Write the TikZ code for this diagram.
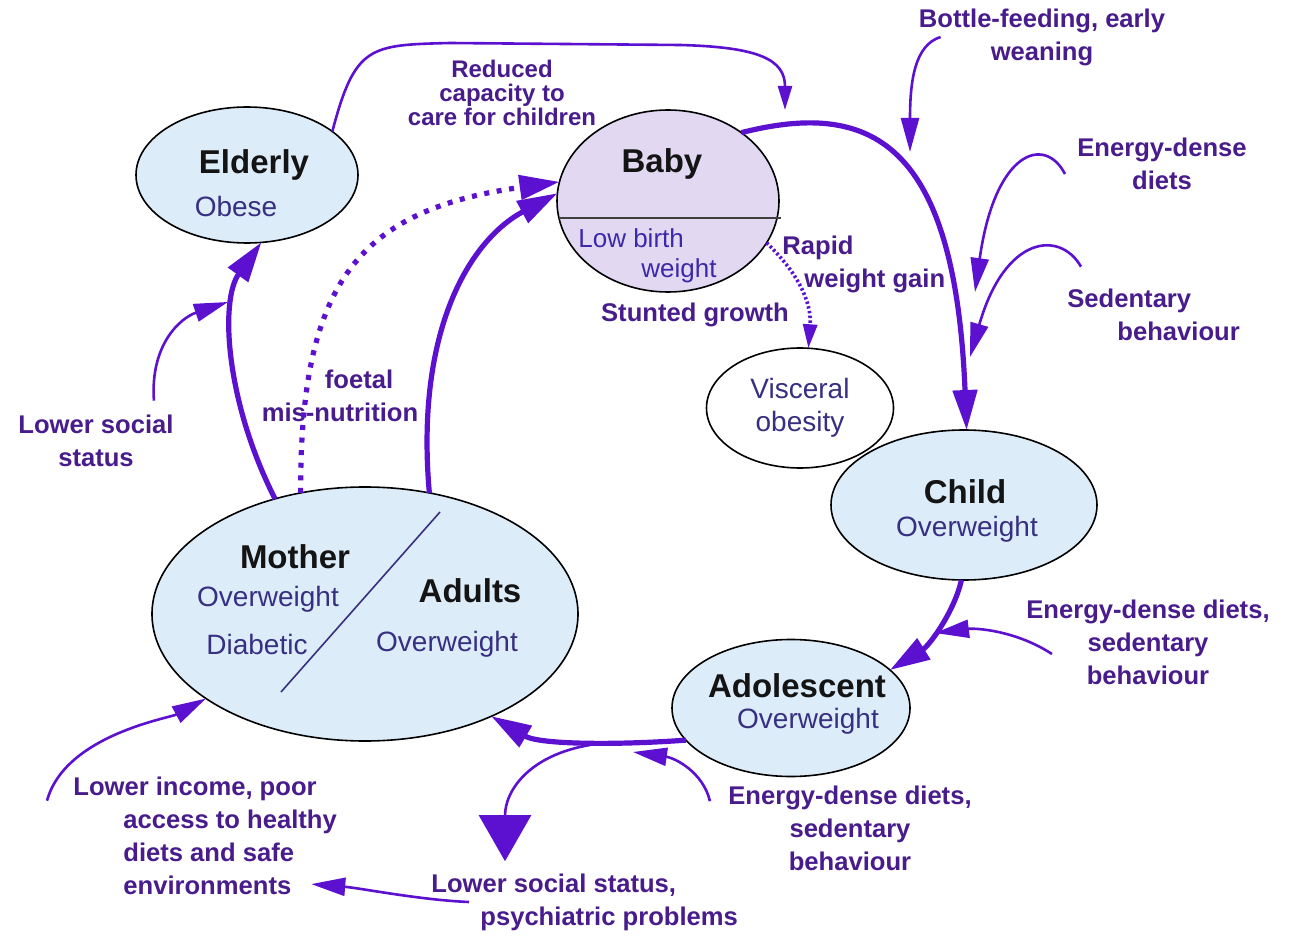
\documentclass[tikz,border=0pt]{standalone}
\usepackage{fontspec}
\setmainfont{Liberation Sans}
\usetikzlibrary{shapes.geometric,arrows.meta}

\definecolor{arrc}{RGB}{92,16,208}
\definecolor{notec}{RGB}{72,28,140}
\definecolor{subc}{RGB}{55,48,130}
\definecolor{lowc}{RGB}{60,40,170}
\definecolor{titlec}{RGB}{20,20,20}
\definecolor{nodeblue}{RGB}{221,236,249}
\definecolor{babyfill}{RGB}{226,216,242}

\tikzset{
  blob/.style={ellipse, draw=black, line width=0.8pt, fill=nodeblue, inner sep=0pt, outer sep=0pt},
  title/.style={font=\bfseries\fontsize{16.5}{18}\selectfont, text=titlec, inner sep=0pt},
  sub/.style={font=\fontsize{14}{16.5}\selectfont, text=subc, inner sep=0pt, align=center},
  note/.style={font=\bfseries\fontsize{12.8}{16.5}\selectfont, text=notec, inner sep=0pt, align=center},
  mainarr/.style={draw=arrc, line width=2.6pt, -{Triangle[length=20pt,width=12pt]}},
  thinarr/.style={draw=arrc, line width=1.3pt, -{Triangle[length=17pt,width=9pt]}},
  dotline/.style={dash pattern=on 2.5pt off 3.8pt},
}

\begin{document}
\begin{tikzpicture}[x=0.5pt, y=-0.5pt]
  \fill[white] (0,0) rectangle (1291,936);
  \useasboundingbox (0,0) rectangle (1291,936);

  % life stages
  \node[blob, minimum width=111pt, minimum height=68pt] (eld) at (247,175) {};
  \node[blob, fill=babyfill, minimum width=111pt, minimum height=91pt] (baby) at (668,201) {};
  \node[blob, fill=white, minimum width=93.5pt, minimum height=60pt] (visc) at (800,408) {};
  \node[blob, minimum width=133pt, minimum height=75pt] (child) at (964,505) {};
  \node[blob, minimum width=119pt, minimum height=68.5pt] (ado) at (791,708) {};
  \node[blob, minimum width=213pt, minimum height=127pt] (mom) at (365,614) {};

  \draw[black!75, line width=0.8pt] (baby.189) -- ([xshift=2pt]baby.-9);
  \draw[subc, line width=0.8pt] (440,512) -- (281,692);

  \node[title] (eld-t) at (254,165) {Elderly};
  \node[sub] (eld-s) at (236,206) {Obese};
  \node[title] (baby-t) at (662,164) {Baby};
  \node[sub, font=\fontsize{13}{15}\selectfont, text=lowc, align=left, anchor=west] (baby-s) at (578,256) {Low birth\\\hspace*{31.5pt}weight};
  \node[sub] (visc-s) at (800,408) {Visceral\\obesity};
  \node[title] (child-t) at (965,492) {Child};
  \node[sub] (child-s) at (967,529) {Overweight};
  \node[title] (ado-t) at (797,686) {Adolescent};
  \node[sub] (ado-s) at (808,721) {Overweight};
  \node[title] (mom-t) at (295,557) {Mother};
  \node[sub] (mom-s1) at (268,599) {Overweight};
  \node[sub] (mom-s2) at (257,644) {Diabetic};
  \node[title] (adu-t) at (470,591) {Adults};
  \node[sub] (adu-s) at (447,644) {Overweight};

  % influences
  \node[note, font=\bfseries\fontsize{12}{12}\selectfont] (cap) at (502,93) {Reduced\\capacity to\\care for children};
  \node[note] (bottle) at (1042,37) {Bottle-feeding, early\\weaning};
  \node[note] (edd) at (1162,164) {Energy-dense\\diets};
  \node[note, align=left, anchor=west] (sed) at (1067,315) {Sedentary\\\hspace*{25pt}behaviour};
  \node[note, align=left, anchor=west] (rapid) at (782,264) {Rapid\\\hspace*{11pt}weight gain};
  \node[note] (stunt) at (695,315) {Stunted growth};
  \node[note] (foetal) at (340,396) {\hspace*{19pt}foetal\\mis-nutrition};
  \node[note] (lss) at (96,441) {Lower social\\status};
  \node[note] (edd2) at (1148,642) {Energy-dense diets,\\sedentary\\behaviour};
  \node[note] (edd3) at (850,828) {Energy-dense diets,\\sedentary\\behaviour};
  \node[note, align=left, anchor=west] (income) at (73,836) {Lower income, poor\\\hspace*{25pt}access to healthy\\\hspace*{25pt}diets and safe\\\hspace*{25pt}environments};
  \node[note, align=left, anchor=west] (psy) at (431,902) {Lower social status,\\\hspace*{24.5pt}psychiatric problems};

  \coordinate (c-cap) at (785,110);
  \coordinate (c-bottle) at (910,152);
  \coordinate (c-edd) at (975,292);
  \coordinate (c-sed) at (970,357);
  \coordinate (c-lss) at (228,302);
  \coordinate (c-edd2) at (935,633);
  \coordinate (c-edd3) at (633,752);
  \coordinate (c-psy) at (590,745);

  % the cycle
  \draw[mainarr] (mom.128) .. controls (225,400) and (220,300) .. (eld.282);
  \draw[mainarr] (mom.62) .. controls (415,330) and (470,240) .. (baby.176);
  \draw[mainarr, dotline] (mom.118) .. controls (300,280) and (360,210) .. (baby.170);
  \draw[mainarr] (baby.43) .. controls (870,100) and (955,140) .. (child.88);
  \draw[mainarr] (child.268) .. controls (955,610) and (930,645) .. (ado.21);
  \draw[mainarr] (ado.197) .. controls (620,745) and (540,745) .. (mom.-39);
  \draw[draw=arrc, line width=1.8pt, dash pattern=on 1.2pt off 1.2pt, -{Triangle[length=12pt,width=7pt]}]
    (baby.-23) .. controls (795,270) and (812,300) .. (visc.82);

  \draw[thinarr, -{Triangle[length=12pt,width=7pt]}] (eld.27) .. controls (355,45) and (370,45) .. (450,43)
    -- (680,45) .. controls (760,47) and (785,60) .. (c-cap);
  \draw[thinarr] ([xshift=11pt]bottle.west) .. controls (915,45) and (910,80) .. (c-bottle);
  \draw[thinarr] ([xshift=-6pt,yshift=-5pt]edd.west) .. controls (1045,135) and (995,150) .. (c-edd);
  \draw[thinarr] ([xshift=7pt,yshift=11pt]sed.north west) .. controls (1060,230) and (1005,235) .. (c-sed);
  \draw[thinarr] ([xshift=-10pt,yshift=7pt]lss.north east) .. controls (150,345) and (180,318) .. (c-lss);
  \draw[thinarr] ([xshift=13pt,yshift=-6pt]edd2.west) .. controls (1015,630) and (975,628) .. (c-edd2);
  \draw[thinarr] ([xshift=-9pt,yshift=-8pt]edd3.north west) .. controls (703,772) and (675,758) .. (c-edd3);
  \draw[thinarr, -{Triangle[length=23pt,width=26pt]}] (c-psy) .. controls (530,755) and (505,790) .. ([xshift=37pt,yshift=6pt]psy.north west);
  \draw[thinarr] ([xshift=19pt]psy.west) .. controls (420,900) and (360,888) .. ([xshift=-13pt]income.-20);
  \draw[thinarr] ([xshift=-13pt,yshift=-12pt]income.north west) .. controls (65,735) and (170,718) .. (mom.208);
\end{tikzpicture}
\end{document}
